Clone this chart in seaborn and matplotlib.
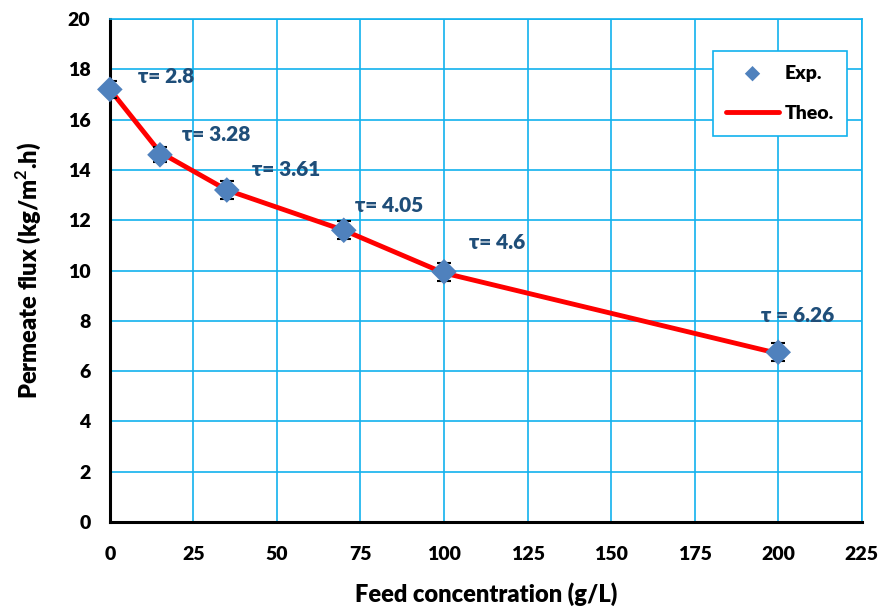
import matplotlib
matplotlib.use("Agg")
import matplotlib.pyplot as plt
import seaborn as sns
import pandas as pd

# Feed concentration (g/L) and permeate flux (kg/m2.h)
conc = [0, 15, 35, 70, 100, 200]
flux_exp = [17.2, 14.6, 13.2, 11.6, 9.95, 6.75]
flux_err = [0.35, 0.3, 0.35, 0.35, 0.35, 0.35]
flux_theo = [17.2, 14.7, 13.2, 11.6, 9.9, 6.7]
tau_labels = ["τ= 2.8", "τ= 3.28", "τ= 3.61", "τ= 4.05", "τ= 4.6", "τ = 6.26"]
label_x = [8.5, 21.5, 42.5, 73.5, 107.5, 195]
label_y = [17.7, 15.4, 14.0, 12.6, 11.1, 8.2]

df = pd.DataFrame({"conc": conc, "exp": flux_exp, "theo": flux_theo})

sns.set_theme(style="white")
plt.rcParams["font.family"] = ["Lato", "DejaVu Sans"]
plt.rcParams["text.color"] = "black"
plt.rcParams["axes.labelcolor"] = "black"
plt.rcParams["xtick.color"] = "black"
plt.rcParams["ytick.color"] = "black"
plt.rcParams["mathtext.fontset"] = "custom"
plt.rcParams["mathtext.bf"] = "Lato:bold"

fig = plt.figure(figsize=(8.93, 6.12), dpi=100)
ax = fig.add_axes([0.123, 0.147, 0.842, 0.822])

grid_c = "#12B2EE"
ax.set_xlim(0, 225)
ax.set_ylim(0, 20)
ax.set_xticks(range(0, 226, 25))
ax.set_yticks(range(0, 21, 2))
ax.grid(True, color=grid_c, linewidth=1.2)
ax.set_axisbelow(True)

sns.lineplot(data=df, x="conc", y="theo", ax=ax, color="#FF0000", linewidth=3.5,
             label="Theo.", zorder=3)
ax.errorbar(conc, flux_exp, yerr=flux_err, fmt="none", ecolor="black",
            elinewidth=1.2, capsize=5, capthick=1.5, zorder=4)
sns.scatterplot(data=df, x="conc", y="exp", ax=ax, marker="D", s=170,
                color="#4F81BD", edgecolor="none", label="Exp.", zorder=5, clip_on=False)

for t, xx, yy in zip(tau_labels, label_x, label_y):
    ax.text(xx, yy, t, color="#1F4E79", fontsize=15, fontweight="heavy",
            ha="left", va="center", zorder=6)

for side in ["top", "right"]:
    ax.spines[side].set_color(grid_c)
    ax.spines[side].set_linewidth(1.2)
for side in ["left", "bottom"]:
    ax.spines[side].set_color("black")
    ax.spines[side].set_linewidth(2.2)

ax.tick_params(axis="x", labelsize=14, length=0, pad=17)
ax.tick_params(axis="y", labelsize=14, length=0, pad=14)
for lab in ax.get_xticklabels() + ax.get_yticklabels():
    lab.set_fontweight("heavy")
ax.set_xlabel("Feed concentration (g/L)", fontsize=17, fontweight="heavy", labelpad=14)
ax.set_ylabel("Permeate flux (kg/m$^{\\mathbf{2}}$.h)", fontsize=17, fontweight="heavy", labelpad=18)

handles, labels = ax.get_legend_handles_labels()
order = [labels.index("Exp."), labels.index("Theo.")]
leg = ax.legend([handles[i] for i in order], [labels[i] for i in order],
                loc="upper right", bbox_to_anchor=(0.981, 0.936), borderaxespad=0,
                fancybox=False, framealpha=1, edgecolor=grid_c, fontsize=14,
                borderpad=0.7, labelspacing=1.2, handlelength=2.7,
                handletextpad=0.3, markerscale=0.6)
leg.get_frame().set_linewidth(1.2)
for txt in leg.get_texts():
    txt.set_fontweight("heavy")

fig.savefig("out.png", dpi=100, facecolor="white")
